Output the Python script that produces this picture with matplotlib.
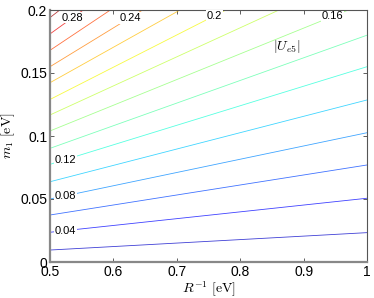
import numpy as np
import matplotlib
matplotlib.use("Agg")
import matplotlib.pyplot as plt

# contour levels of |U_e5| and where each line crosses R^-1 = 0.5 and R^-1 = 1
levels = [0.02, 0.04, 0.06, 0.08, 0.10, 0.12, 0.14, 0.16,
          0.18, 0.20, 0.22, 0.24, 0.26, 0.28, 0.30]
m1_left = [0.0095, 0.0236, 0.0373, 0.050, 0.0637, 0.0775, 0.0902, 0.104,
           0.1167, 0.129, 0.1423, 0.155, 0.168, 0.181, 0.194]
m1_right = [0.0233, 0.0506, 0.077, 0.1026, 0.1286, 0.155, 0.180, 0.206,
            0.232, 0.257, 0.283, 0.309, 0.336, 0.362, 0.388]
r_ends = [0.5, 1.0]

# inline labels: level -> R^-1 where the label sits
label_levels = [0.04, 0.08, 0.12, 0.16, 0.20, 0.24, 0.28]
label_x = [0.524, 0.524, 0.524, 0.946, 0.759, 0.626, 0.536]
label_text = ["0.04", "0.08", "0.12", "0.16", "0.2", "0.24", "0.28"]

plt.rcParams['font.family'] = ['Liberation Sans', 'DejaVu Sans']
plt.rcParams['mathtext.fontset'] = 'cm'

fig = plt.figure(figsize=(3.74, 2.98), dpi=100)
ax = fig.add_axes([50/374, 36/298, 317/374, 252/298])

cmap = plt.get_cmap('jet')
norm = plt.Normalize(0.0, 0.31)
for lev, a, b in zip(levels, m1_left, m1_right):
    ax.plot(r_ends, [a, b], color=cmap(norm(lev)), lw=0.6, alpha=0.75,
            zorder=2)

for lev, lx, txt in zip(label_levels, label_x, label_text):
    i = levels.index(lev)
    ly = np.interp(lx, r_ends, [m1_left[i], m1_right[i]])
    ax.text(lx, ly, txt, fontsize=8, ha='center', va='center', zorder=3,
            bbox=dict(facecolor='white', edgecolor='none', pad=0.6))

ax.text(0.874, 0.171, r"$|U_{e5}|$", fontsize=10, ha='center', va='center')

ax.set_xlim(0.5, 1.0)
ax.set_ylim(0, 0.2)
ax.set_xticks([0.5, 0.6, 0.7, 0.8, 0.9, 1.0])
ax.set_xticklabels(["0.5", "0.6", "0.7", "0.8", "0.9", "1"])
ax.set_yticks([0, 0.05, 0.1, 0.15, 0.2])
ax.set_yticklabels(["0", "0.05", "0.1", "0.15", "0.2"])
ax.tick_params(direction='in', length=3, width=0.6, top=True, right=True,
               labelsize=10, pad=2, color='#444444')

for s in ['left', 'bottom']:
    ax.spines[s].set_color('#888888')
    ax.spines[s].set_linewidth(1.6)
for s in ['top', 'right']:
    ax.spines[s].set_color('#555555')
    ax.spines[s].set_linewidth(0.8)

ax.set_xlabel(r"$R^{-1}\ [\mathrm{eV}]$", fontsize=10, labelpad=1)
ax.set_ylabel(r"$m_1\ [\mathrm{eV}]$", fontsize=10, labelpad=2)

fig.savefig("out.png", dpi=100)
